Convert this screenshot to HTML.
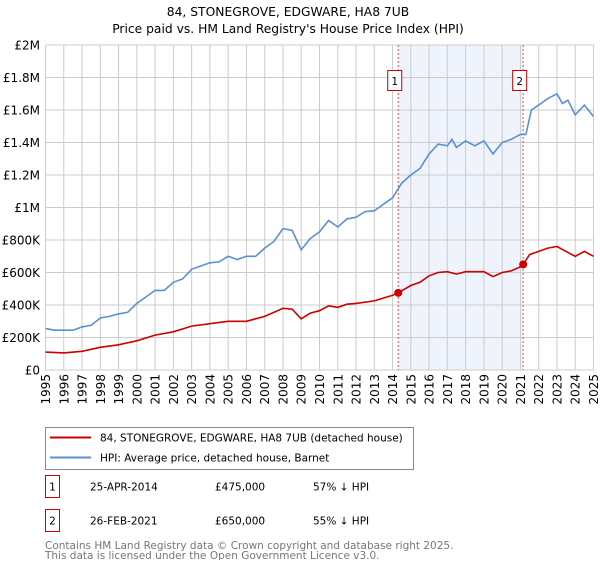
<!DOCTYPE html>
<html><head><meta charset="utf-8"><style>
body{margin:0;background:#fff;font-family:"DejaVu Sans","Liberation Sans",sans-serif;}
svg text{font-family:"DejaVu Sans","Liberation Sans",sans-serif;}
</style></head><body>
<svg id="chart" width="600" height="560" viewBox="0 0 600 560" xmlns="http://www.w3.org/2000/svg">
<text x="288" y="16" text-anchor="middle" font-size="12.3">84, STONEGROVE, EDGWARE, HA8 7UB</text>
<text x="288" y="33" text-anchor="middle" font-size="12.3">Price paid vs. HM Land Registry's House Price Index (HPI)</text>
<g id="plot"></g>
<g>
<rect x="45.5" y="427.5" width="368" height="42" fill="#fff" stroke="#888"/>
<line x1="50" y1="437.5" x2="91" y2="437.5" stroke="#cc0000" stroke-width="2"/>
<text x="100" y="441.5" font-size="10.5">84, STONEGROVE, EDGWARE, HA8 7UB (detached house)</text>
<line x1="50" y1="457.5" x2="91" y2="457.5" stroke="#5b8fd0" stroke-width="2"/>
<text x="100" y="461.5" font-size="10.5">HPI: Average price, detached house, Barnet</text>
</g>
<g font-size="10.5">
<rect x="45.5" y="475.5" width="14" height="22" fill="#fff" stroke="#cc0000"/>
<text x="52.5" y="490.5" text-anchor="middle">1</text>
<text x="90" y="490.5">25-APR-2014</text><text x="215" y="490.5">£475,000</text><text x="313" y="490.5">57% ↓ HPI</text>
<rect x="45.5" y="509.5" width="14" height="22" fill="#fff" stroke="#cc0000"/>
<text x="52.5" y="524.5" text-anchor="middle">2</text>
<text x="90" y="524.5">26-FEB-2021</text><text x="215" y="524.5">£650,000</text><text x="313" y="524.5">55% ↓ HPI</text>
</g>
<text x="45" y="549" font-size="10.5" fill="#777">Contains HM Land Registry data © Crown copyright and database right 2025.</text>
<text x="45" y="559" font-size="10.5" fill="#777">This data is licensed under the Open Government Licence v3.0.</text>
</svg>
<script>
const hpiYears=[1995,1995.5,1996,1996.5,1997,1997.5,1998,1998.5,1999,1999.5,2000,2000.5,2001,2001.5,2002,2002.5,2003,2003.5,2004,2004.5,2005,2005.5,2006,2006.5,2007,2007.5,2008,2008.5,2009,2009.5,2010,2010.5,2011,2011.5,2012,2012.5,2013,2013.5,2014,2014.5,2015,2015.5,2016,2016.5,2017,2017.25,2017.5,2018,2018.5,2019,2019.5,2020,2020.5,2021,2021.3,2021.6,2022,2022.5,2023,2023.3,2023.6,2024,2024.5,2025];
const hpiValues=[255,245,245,245,265,275,320,330,345,355,410,450,490,490,540,560,620,640,660,665,700,680,700,700,750,790,870,860,740,810,850,920,880,930,940,975,980,1020,1060,1150,1200,1240,1330,1390,1380,1420,1370,1410,1380,1410,1330,1400,1420,1450,1450,1600,1630,1670,1700,1640,1660,1570,1630,1560];
const propYears=[1995,1996,1997,1998,1999,2000,2001,2002,2003,2004,2005,2006,2007,2008,2008.5,2009,2009.5,2010,2010.5,2011,2011.5,2012,2013,2014,2014.31,2015,2015.5,2016,2016.5,2017,2017.5,2018,2019,2019.5,2020,2020.5,2021,2021.15,2021.5,2022,2022.5,2023,2023.5,2024,2024.5,2025];
const propValues=[110,105,115,140,155,180,215,235,270,285,300,300,330,380,375,315,350,365,395,385,405,410,425,460,475,520,540,580,600,605,590,605,605,575,600,610,635,650,710,730,750,760,730,700,730,700];
const saleYears=[2014.31,2021.15];
const saleValues=[475,650];
const saleLabels=["1","2"];
const yTicks=[0,200,400,600,800,1000,1200,1400,1600,1800,2000];
const yTickLabels=["£0","£200K","£400K","£600K","£800K","£1M","£1.2M","£1.4M","£1.6M","£1.8M","£2M"];
const xTicks=[1995,1996,1997,1998,1999,2000,2001,2002,2003,2004,2005,2006,2007,2008,2009,2010,2011,2012,2013,2014,2015,2016,2017,2018,2019,2020,2021,2022,2023,2024,2025];

const X0=45.5,X1=593.5,Y0=370,Y1=45;
const xs=y=>X0+(y-1995)/30*(X1-X0);
const ys=v=>Y0-v/2000*(Y0-Y1);
const NS="http://www.w3.org/2000/svg";
const plot=document.getElementById('plot');
function mk(t,a){const e=document.createElementNS(NS,t);for(const k in a)e.setAttribute(k,a[k]);plot.appendChild(e);return e;}
const shade=mk('rect',{x:xs(saleYears[0]),y:Y1,width:xs(saleYears[1])-xs(saleYears[0]),height:Y0-Y1,fill:'#eef3fc'});


yTicks.forEach((v,i)=>{
 const l=mk('line',{x1:X0,x2:X1,y1:ys(v),y2:ys(v),stroke:'#ccc'});
 
 
 const t=mk('text',{x:40,y:ys(v)+4.5,'text-anchor':'end','font-size':'12'});
 t.textContent=yTickLabels[i];
 
 
});
xTicks.forEach(y=>{
 const l=mk('line',{x1:xs(y),x2:xs(y),y1:Y1,y2:Y0,stroke:'#ccc'});
 
 
 const t=mk('text',{x:0,y:0,'text-anchor':'end','font-size':'12',transform:`translate(${xs(y)+4.5},374) rotate(-90)`});
 t.textContent=y;
 
 
});
saleYears.forEach((y,i)=>{
 const l=mk('line',{x1:xs(y),x2:xs(y),y1:Y1,y2:Y0,stroke:'#e05050','stroke-dasharray':'2,2'});
 
 
 const r=mk('rect',{x:xs(y)-10.5,y:70.5,width:14,height:20,fill:'#fff',stroke:'#cc0000'});
 
 
 const t=mk('text',{x:xs(y)-3.5,y:85,'text-anchor':'middle','font-size':'10.5'});
 t.textContent=saleLabels[i];
 
 
});
const hp=mk('path',{d:hpiYears.map((y,i)=>(i?'L':'M')+xs(y).toFixed(1)+','+ys(hpiValues[i]).toFixed(1)).join(''),fill:'none',stroke:'#5b8fd0','stroke-width':1.6});


const pp=mk('path',{d:propYears.map((y,i)=>(i?'L':'M')+xs(y).toFixed(1)+','+ys(propValues[i]).toFixed(1)).join(''),fill:'none',stroke:'#cc0000','stroke-width':1.6});


saleYears.forEach((y,i)=>{
 const c=mk('circle',{cx:xs(y),cy:ys(saleValues[i]),r:4,fill:'#cc0000'});
 
 
});
</script>
</body></html>
